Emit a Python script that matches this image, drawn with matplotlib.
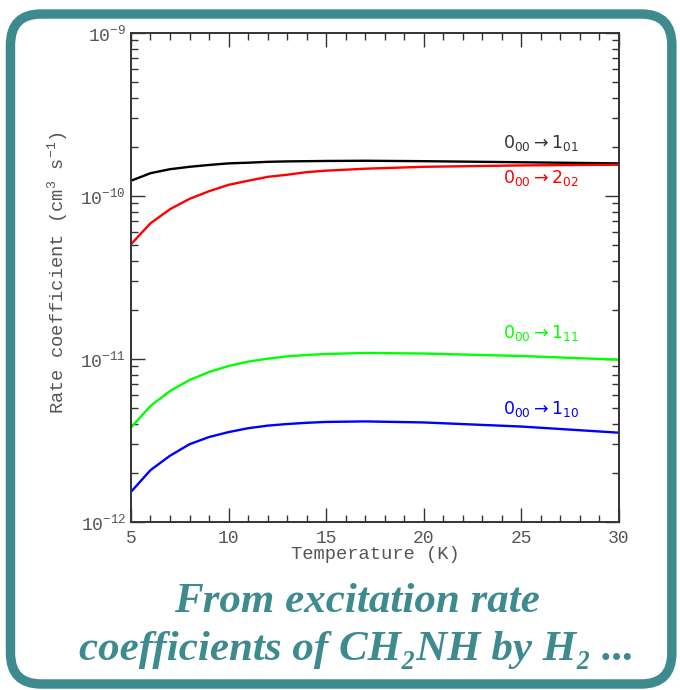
import numpy as np
import matplotlib.pyplot as plt
from matplotlib.patches import FancyBboxPatch
from matplotlib.ticker import MultipleLocator, LogLocator, NullFormatter

# temperatures (K) and rate coefficients (cm^3 s^-1)
temp = [5, 6, 7, 8, 9, 10, 11, 12, 13, 14, 15, 17, 20, 25, 30]
k_101 = [1.24e-10, 1.38e-10, 1.46e-10, 1.51e-10, 1.55e-10, 1.585e-10, 1.60e-10, 1.62e-10,
         1.63e-10, 1.635e-10, 1.64e-10, 1.645e-10, 1.635e-10, 1.61e-10, 1.585e-10]
k_202 = [5.06e-11, 6.8e-11, 8.3e-11, 9.6e-11, 1.07e-10, 1.17e-10, 1.24e-10, 1.31e-10,
         1.35e-10, 1.40e-10, 1.43e-10, 1.47e-10, 1.51e-10, 1.54e-10, 1.555e-10]
k_111 = [3.79e-12, 5.15e-12, 6.36e-12, 7.43e-12, 8.32e-12, 9.06e-12, 9.63e-12, 1.004e-11,
         1.038e-11, 1.058e-11, 1.073e-11, 1.089e-11, 1.08e-11, 1.043e-11, 9.9e-12]
k_110 = [1.53e-12, 2.08e-12, 2.55e-12, 3.0e-12, 3.32e-12, 3.56e-12, 3.76e-12, 3.90e-12,
         3.99e-12, 4.06e-12, 4.11e-12, 4.14e-12, 4.08e-12, 3.85e-12, 3.53e-12]

labels = [r'$0_{00}\rightarrow 1_{01}$', r'$0_{00}\rightarrow 2_{02}$',
          r'$0_{00}\rightarrow 1_{11}$', r'$0_{00}\rightarrow 1_{10}$']

plt.rcParams['font.family'] = ['Liberation Mono', 'DejaVu Sans']
plt.rcParams['mathtext.fontset'] = 'custom'
plt.rcParams['mathtext.rm'] = 'Liberation Mono'
plt.rcParams['mathtext.it'] = 'Liberation Mono'

teal = '#3d8b8f'
grey = '#555555'

fig = plt.figure(figsize=(6.8, 6.9), dpi=100)
fig.patch.set_facecolor('white')

# rounded teal frame
frame = FancyBboxPatch((0.0154, 0.0087), 0.9726, 0.971,
                       boxstyle='round,pad=0,rounding_size=0.045',
                       transform=fig.transFigure, facecolor='none',
                       edgecolor=teal, linewidth=6.8, zorder=0)
fig.patches.append(frame)

ax = fig.add_axes([0.1926, 0.2435, 0.7176, 0.7087])
ax.set_yscale('log')

series = [k_101, k_202, k_111, k_110]
colors = ['black', 'red', 'lime', 'blue']
label_txt_colors = ['#333333', 'red', 'lime', 'blue']
label_pos = [(24.05, 1.96e-10), (24.05, 1.197e-10), (24.05, 1.34e-11), (24.05, 4.6e-12)]

for k, c, tc, lab, (lx, ly) in zip(series, colors, label_txt_colors, labels, label_pos):
    ax.plot(temp, k, color=c, lw=1.7)
    ax.text(lx, ly, lab, color=tc, fontsize=12.5, va='baseline', ha='left',
            math_fontfamily='dejavusans')

ax.set_xlim(5, 30)
ax.set_ylim(1e-12, 1e-9)
ax.xaxis.set_major_locator(MultipleLocator(5))
ax.xaxis.set_minor_locator(MultipleLocator(1))
ax.yaxis.set_major_locator(LogLocator(base=10, numticks=10))
ax.yaxis.set_minor_locator(LogLocator(base=10, subs=np.arange(2, 10), numticks=20))
ax.yaxis.set_minor_formatter(NullFormatter())

ax.tick_params(which='both', direction='in', top=True, right=True,
               color='#333333', width=1.0, labelsize=13, labelcolor=grey)
ax.tick_params(which='major', length=10)
ax.tick_params(which='minor', length=5)
ax.tick_params(axis='x', pad=6)
for s in ax.spines.values():
    s.set_linewidth(1.4)
    s.set_color('#333333')

ax.set_xlabel('Temperature (K)', fontsize=13.5, color=grey)
ax.set_ylabel(r'Rate coefficient (cm$^3$ s$^{-1}$)', fontsize=13.5, color=grey)
ax.xaxis.set_label_coords(0.5, -0.05)
ax.yaxis.set_label_coords(-0.125, 0.51)

# caption
cap_font = dict(ha='center', va='baseline', fontsize=31, color=teal,
                family=['Liberation Serif', 'DejaVu Serif'], weight='bold', style='italic')
fig.text(0.525, 1 - 611.7 / 690, 'From excitation rate', **cap_font)
fig.text(0.525, 1 - 660 / 690, 'coefficients of CH\u2082NH by H\u2082 ...', **cap_font)

fig.savefig('out.png', dpi=100, facecolor='white')
